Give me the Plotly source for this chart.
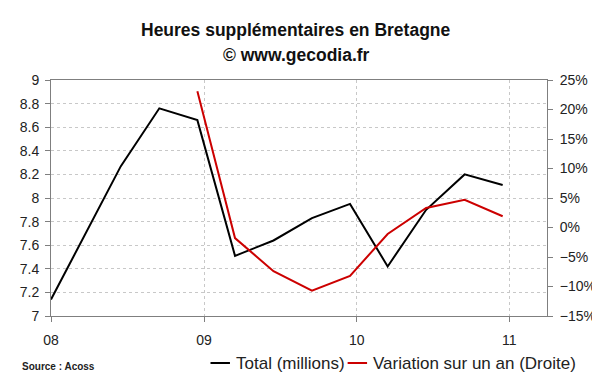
import plotly.graph_objects as go

# Data
total_dates = ["2008-01-01", "2008-06-16", "2008-09-16", "2008-12-16", "2009-03-16",
               "2009-06-16", "2009-09-16", "2009-12-16", "2010-03-16", "2010-06-16",
               "2010-09-16", "2010-12-16"]
total_values = [7.14, 8.27, 8.76, 8.66, 7.51, 7.64, 7.83, 7.95, 7.42, 7.90, 8.20, 8.11]

var_dates = ["2008-12-16", "2009-03-16", "2009-06-16", "2009-09-16", "2009-12-16",
             "2010-03-16", "2010-06-16", "2010-09-16", "2010-12-16"]
var_values = [23.1, -1.8, -7.4, -10.7, -8.2, -1.1, 3.3, 4.7, 1.9]

year_ticks = ["2008-01-01", "2009-01-01", "2010-01-01", "2011-01-01"]
year_labels = ["08", "09", "10", "11"]

series_names = ["Total (millions)", "Variation sur un an (Droite)"]
series_colors = ["#000000", "#cc0000"]

FONT = "Liberation Sans, Arial, sans-serif"
AXIS_COL = "#7f7f7f"
GRID_COL = "#c8c8c8"

# plot-area geometry in pixels
L, R, T, B = 38, 52, 72, 64
W, H = 600, 372
PW, PH = W - L - R, H - T - B


def px_x(x):
    return (x - L) / PW


def px_y(y):
    return (H - B - y) / PH


fig = go.Figure()
fig.add_trace(go.Scatter(x=total_dates, y=total_values, mode="lines",
                         name=series_names[0], showlegend=False,
                         line=dict(color=series_colors[0], width=2)))
fig.add_trace(go.Scatter(x=var_dates, y=var_values, mode="lines",
                         name=series_names[1], yaxis="y2", showlegend=False,
                         line=dict(color=series_colors[1], width=2)))

fig.update_layout(
    width=W, height=H,
    margin=dict(l=L, r=R, t=T, b=B),
    paper_bgcolor="white", plot_bgcolor="white",
    font=dict(family=FONT, size=14, color="#222222"),
    xaxis=dict(type="date", range=["2008-01-01", "2011-04-01"],
               tickvals=year_ticks, ticktext=year_labels,
               showline=True, linecolor=AXIS_COL, linewidth=1, mirror=True,
               ticks="outside", ticklen=5, tickcolor=AXIS_COL,
               ticklabelstandoff=6,
               showgrid=True, gridcolor=GRID_COL, griddash="dot", gridwidth=1,
               zeroline=False, tickfont=dict(size=14)),
    yaxis=dict(range=[7, 9], dtick=0.2, tick0=7,
               showline=True, linecolor=AXIS_COL, linewidth=1,
               ticks="outside", ticklen=5, tickcolor=AXIS_COL,
               ticklabelstandoff=3,
               showgrid=True, gridcolor=GRID_COL, griddash="dot", gridwidth=1,
               zeroline=False, tickfont=dict(size=14)),
    yaxis2=dict(range=[-15, 25], dtick=5, tick0=-15, ticksuffix="%",
                overlaying="y", side="right",
                showline=True, linecolor=AXIS_COL, linewidth=1,
                ticks="outside", ticklen=5, tickcolor=AXIS_COL,
                ticklabelstandoff=4,
                showgrid=False, zeroline=False, tickfont=dict(size=14)),
    showlegend=False,
)

# Titles
fig.add_annotation(text="<b>Heures supplémentaires en Bretagne</b>",
                   xref="paper", yref="paper", x=px_x(290), y=px_y(22),
                   xanchor="center", yanchor="middle", showarrow=False,
                   font=dict(size=17.5, color="#111111", family=FONT))
fig.add_annotation(text="<b>© www.gecodia.fr</b>",
                   xref="paper", yref="paper", x=px_x(290), y=px_y(47),
                   xanchor="center", yanchor="middle", showarrow=False,
                   font=dict(size=17.5, color="#111111", family=FONT))
fig.add_annotation(text="<b>Source : Acoss</b>",
                   xref="paper", yref="paper", x=px_x(6), y=px_y(358),
                   xanchor="left", yanchor="middle", showarrow=False,
                   font=dict(size=10, color="#222222", family=FONT))

# Legend (drawn to match the short legend keys of the original)
legend_keys = [(202, 222, 226), (343, 363, 367)]
for (x0, x1, xt), name, col in zip(legend_keys, series_names, series_colors):
    fig.add_shape(type="line", xref="paper", yref="paper",
                  x0=px_x(x0), x1=px_x(x1), y0=px_y(355), y1=px_y(355),
                  line=dict(color=col, width=2))
    fig.add_annotation(text=name, xref="paper", yref="paper",
                       x=px_x(xt), y=px_y(355), xanchor="left", yanchor="middle",
                       showarrow=False,
                       font=dict(size=17, color="#222222", family=FONT))

fig.write_html("out.html")
